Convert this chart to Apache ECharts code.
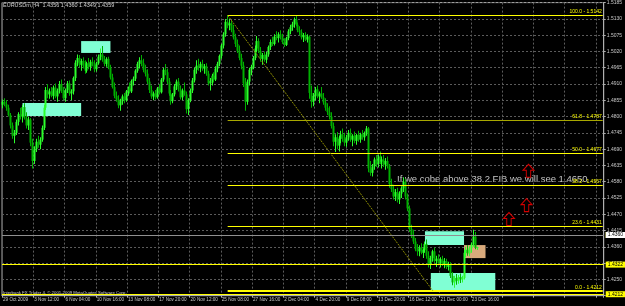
<!DOCTYPE html>
<html><head><meta charset="utf-8">
<script src="https://cdn.jsdelivr.net/npm/echarts@6/dist/echarts.min.js"></script>
<style>html,body{margin:0;padding:0;background:#000;}#c{width:625px;height:306px;}</style>
</head><body><div id="c"></div>
<script>
const dateLabels = ['29 Oct 2009','3 Nov 12:00','6 Nov 04:00','10 Nov 16:00','13 Nov 08:00','17 Nov 20:00','20 Nov 12:00','25 Nov 08:00','27 Nov 16:00','2 Dec 04:00','4 Dec 20:00','9 Dec 08:00','13 Dec 20:00','16 Dec 12:00','21 Dec 00:00','23 Dec 16:00'];
const barSlots = 308;

const opens = [1.4840,1.4850,1.4842,1.4830,1.4805,1.4770,1.4735,1.4745,1.4782,1.4808,
1.4800,1.4832,1.4795,1.4770,1.4790,1.4712,1.4650,1.4690,1.4715,1.4705,
1.4722,1.4762,1.4830,1.4890,1.4875,1.4885,1.4870,1.4898,1.4868,1.4888,
1.4910,1.4885,1.4862,1.4890,1.4912,1.4878,1.4885,1.4930,1.4982,1.4998,
1.4975,1.4988,1.4970,1.4955,1.4980,1.4968,1.4985,1.4975,1.4960,1.4980,
1.5002,1.5010,1.4992,1.4978,1.4995,1.4965,1.4932,1.4900,1.4870,1.4858,
1.4838,1.4852,1.4868,1.4855,1.4885,1.4895,1.4885,1.4920,1.4928,1.4955,
1.4978,1.4990,1.4980,1.4958,1.4945,1.4918,1.4890,1.4868,1.4878,1.4865,
1.4895,1.4882,1.4925,1.4958,1.4950,1.4918,1.4878,1.4852,1.4875,1.4902,
1.4918,1.4892,1.4865,1.4888,1.4875,1.4825,1.4855,1.4888,1.4922,1.4958,
1.4972,1.4965,1.4978,1.4962,1.4970,1.4945,1.4912,1.4920,1.4938,1.4925,
1.4962,1.4978,1.5005,1.5040,1.5078,1.5120,1.5108,1.5115,1.5092,1.5068,
1.5045,1.5022,1.4998,1.4972,1.4912,1.4850,1.4918,1.4958,1.4968,1.4998,
1.5030,1.5055,1.5022,1.4995,1.5008,1.4992,1.5010,1.5035,1.5052,1.5045,
1.5070,1.5065,1.5078,1.5068,1.5052,1.5042,1.5065,1.5088,1.5102,1.5112,
1.5128,1.5110,1.5092,1.5085,1.5068,1.5075,1.5060,1.5070,1.4880,1.4850,
1.4870,1.4892,1.4868,1.4878,1.4865,1.4848,1.4830,1.4815,1.4800,1.4768,
1.4715,1.4730,1.4702,1.4725,1.4740,1.4725,1.4712,1.4730,1.4745,1.4722,
1.4735,1.4718,1.4738,1.4722,1.4740,1.4730,1.4745,1.4760,1.4625,1.4610,
1.4632,1.4655,1.4640,1.4665,1.4648,1.4655,1.4638,1.4650,1.4632,1.4572,
1.4555,1.4530,1.4545,1.4520,1.4540,1.4558,1.4580,1.4530,1.4490,1.4420,
1.4400,1.4378,1.4352,1.4345,1.4358,1.4340,1.4350,1.4370,1.4330,1.4300,
1.4322,1.4345,1.4312,1.4320,1.4305,1.4318,1.4302,1.4312,1.4292,1.4300,
1.4262,1.4240,1.4255,1.4245,1.4258,1.4250,1.4255,1.4340,1.4350,1.4338,
1.4355,1.4368,1.4395,1.4356];

const highs = [1.4858,1.4862,1.4856,1.4840,1.4812,1.4780,1.4755,1.4790,1.4815,1.4830,
1.4840,1.4845,1.4815,1.4800,1.4795,1.4725,1.4700,1.4725,1.4735,1.4730,
1.4770,1.4840,1.4900,1.4910,1.4895,1.4900,1.4905,1.4912,1.4895,1.4920,
1.4925,1.4900,1.4895,1.4920,1.4922,1.4892,1.4935,1.4990,1.5010,1.5008,
1.4995,1.5000,1.4990,1.4985,1.4998,1.4992,1.5000,1.4990,1.4985,1.5010,
1.5030,1.5038,1.5005,1.5000,1.5002,1.4975,1.4945,1.4915,1.4885,1.4872,
1.4860,1.4875,1.4880,1.4890,1.4902,1.4915,1.4925,1.4935,1.4960,1.4985,
1.5000,1.5008,1.4995,1.4975,1.4960,1.4930,1.4905,1.4885,1.4890,1.4900,
1.4910,1.4930,1.4965,1.4978,1.4962,1.4930,1.4890,1.4880,1.4910,1.4925,
1.4930,1.4905,1.4895,1.4915,1.4885,1.4862,1.4895,1.4930,1.4965,1.4990,
1.4995,1.4985,1.4992,1.4978,1.4980,1.4955,1.4930,1.4945,1.4950,1.4970,
1.4985,1.5010,1.5045,1.5085,1.5130,1.5142,1.5130,1.5125,1.5110,1.5080,
1.5060,1.5040,1.5012,1.4985,1.4930,1.4925,1.4965,1.4975,1.5005,1.5040,
1.5072,1.5065,1.5035,1.5015,1.5020,1.5018,1.5040,1.5060,1.5070,1.5078,
1.5088,1.5085,1.5092,1.5080,1.5065,1.5070,1.5095,1.5110,1.5120,1.5135,
1.5140,1.5118,1.5105,1.5095,1.5082,1.5085,1.5078,1.5075,1.4905,1.4880,
1.4900,1.4905,1.4885,1.4900,1.4880,1.4862,1.4845,1.4835,1.4815,1.4780,
1.4740,1.4748,1.4735,1.4752,1.4760,1.4745,1.4738,1.4755,1.4760,1.4740,
1.4750,1.4742,1.4752,1.4745,1.4755,1.4750,1.4768,1.4765,1.4650,1.4640,
1.4662,1.4670,1.4672,1.4682,1.4665,1.4670,1.4660,1.4665,1.4640,1.4590,
1.4570,1.4555,1.4560,1.4548,1.4565,1.4595,1.4590,1.4540,1.4500,1.4435,
1.4418,1.4390,1.4370,1.4365,1.4372,1.4355,1.4378,1.4385,1.4345,1.4330,
1.4350,1.4358,1.4330,1.4335,1.4325,1.4330,1.4322,1.4320,1.4310,1.4308,
1.4275,1.4262,1.4268,1.4265,1.4270,1.4262,1.4350,1.4360,1.4365,1.4362,
1.4375,1.4418,1.4410,1.4360];

const lows = [1.4828,1.4835,1.4820,1.4800,1.4760,1.4725,1.4710,1.4738,1.4770,1.4790,
1.4780,1.4790,1.4760,1.4755,1.4700,1.4625,1.4640,1.4680,1.4695,1.4690,
1.4715,1.4755,1.4822,1.4862,1.4860,1.4865,1.4858,1.4862,1.4850,1.4878,
1.4880,1.4855,1.4850,1.4880,1.4870,1.4855,1.4875,1.4920,1.4970,1.4965,
1.4955,1.4962,1.4945,1.4948,1.4960,1.4955,1.4970,1.4950,1.4952,1.4975,
1.4990,1.4985,1.4970,1.4968,1.4960,1.4925,1.4895,1.4862,1.4850,1.4828,
1.4820,1.4840,1.4845,1.4850,1.4870,1.4878,1.4880,1.4905,1.4920,1.4948,
1.4962,1.4970,1.4950,1.4935,1.4910,1.4880,1.4860,1.4855,1.4858,1.4860,
1.4875,1.4878,1.4918,1.4940,1.4910,1.4870,1.4840,1.4845,1.4868,1.4890,
1.4885,1.4858,1.4855,1.4870,1.4810,1.4805,1.4848,1.4880,1.4915,1.4945,
1.4955,1.4950,1.4955,1.4945,1.4938,1.4905,1.4888,1.4905,1.4915,1.4920,
1.4950,1.4970,1.4995,1.5030,1.5070,1.5098,1.5092,1.5085,1.5060,1.5035,
1.5015,1.4990,1.4960,1.4900,1.4820,1.4840,1.4905,1.4940,1.4960,1.4990,
1.5018,1.5015,1.4985,1.4975,1.4985,1.4980,1.5002,1.5025,1.5038,1.5040,
1.5058,1.5050,1.5060,1.5045,1.5035,1.5038,1.5058,1.5078,1.5090,1.5100,
1.5105,1.5085,1.5075,1.5060,1.5052,1.5055,1.5050,1.4860,1.4830,1.4835,
1.4855,1.4862,1.4845,1.4860,1.4840,1.4820,1.4805,1.4790,1.4760,1.4700,
1.4680,1.4690,1.4682,1.4710,1.4715,1.4700,1.4698,1.4718,1.4715,1.4700,
1.4710,1.4705,1.4715,1.4712,1.4722,1.4718,1.4735,1.4612,1.4600,1.4598,
1.4620,1.4630,1.4628,1.4640,1.4625,1.4630,1.4620,1.4625,1.4560,1.4545,
1.4520,1.4515,1.4510,1.4505,1.4525,1.4545,1.4520,1.4480,1.4410,1.4390,
1.4370,1.4345,1.4330,1.4328,1.4335,1.4322,1.4340,1.4320,1.4290,1.4285,
1.4310,1.4305,1.4292,1.4298,1.4290,1.4295,1.4288,1.4285,1.4280,1.4255,
1.4230,1.4222,1.4232,1.4235,1.4238,1.4240,1.4250,1.4325,1.4330,1.4328,
1.4340,1.4360,1.4352,1.4349];

const closes = [1.4850,1.4842,1.4830,1.4805,1.4770,1.4735,1.4745,1.4782,1.4808,1.4800,
1.4832,1.4795,1.4770,1.4790,1.4712,1.4650,1.4690,1.4715,1.4705,1.4722,
1.4762,1.4830,1.4890,1.4875,1.4885,1.4870,1.4898,1.4868,1.4888,1.4910,
1.4885,1.4862,1.4890,1.4912,1.4878,1.4885,1.4930,1.4982,1.4998,1.4975,
1.4988,1.4970,1.4955,1.4980,1.4968,1.4985,1.4975,1.4960,1.4980,1.5002,
1.5010,1.4992,1.4978,1.4995,1.4965,1.4932,1.4900,1.4870,1.4858,1.4838,
1.4852,1.4868,1.4855,1.4885,1.4895,1.4885,1.4920,1.4928,1.4955,1.4978,
1.4990,1.4980,1.4958,1.4945,1.4918,1.4890,1.4868,1.4878,1.4865,1.4895,
1.4882,1.4925,1.4958,1.4950,1.4918,1.4878,1.4852,1.4875,1.4902,1.4918,
1.4892,1.4865,1.4888,1.4875,1.4825,1.4855,1.4888,1.4922,1.4958,1.4972,
1.4965,1.4978,1.4962,1.4970,1.4945,1.4912,1.4920,1.4938,1.4925,1.4962,
1.4978,1.5005,1.5040,1.5078,1.5120,1.5108,1.5115,1.5092,1.5068,1.5045,
1.5022,1.4998,1.4972,1.4912,1.4850,1.4918,1.4958,1.4968,1.4998,1.5030,
1.5055,1.5022,1.4995,1.5008,1.4992,1.5010,1.5035,1.5052,1.5045,1.5070,
1.5065,1.5078,1.5068,1.5052,1.5042,1.5065,1.5088,1.5102,1.5112,1.5128,
1.5110,1.5092,1.5085,1.5068,1.5075,1.5060,1.5070,1.4880,1.4850,1.4870,
1.4892,1.4868,1.4878,1.4865,1.4848,1.4830,1.4815,1.4800,1.4768,1.4715,
1.4730,1.4702,1.4725,1.4740,1.4725,1.4712,1.4730,1.4745,1.4722,1.4735,
1.4718,1.4738,1.4722,1.4740,1.4730,1.4745,1.4760,1.4625,1.4610,1.4632,
1.4655,1.4640,1.4665,1.4648,1.4655,1.4638,1.4650,1.4632,1.4572,1.4555,
1.4530,1.4545,1.4520,1.4540,1.4558,1.4580,1.4530,1.4490,1.4420,1.4400,
1.4378,1.4352,1.4345,1.4358,1.4340,1.4350,1.4370,1.4330,1.4300,1.4322,
1.4345,1.4312,1.4320,1.4305,1.4318,1.4302,1.4312,1.4292,1.4300,1.4262,
1.4240,1.4255,1.4245,1.4258,1.4250,1.4255,1.4340,1.4350,1.4338,1.4355,
1.4368,1.4395,1.4356,1.4359];

const fibLabels = ['0.0','23.6','38.2','50.0','61.8','100.0'];
const fibPrices = [1.4212, 1.4431, 1.4567, 1.4677, 1.4787, 1.5142];
const fibStartBar = 115, fibEndBar = 307, fibLowBar = 220;
const hLinePrices = [1.4418, 1.4360, 1.4322, 1.4212];
// rectangles: [fromBar, toBar, topPrice, bottomPrice]
const boxes = [[40,55,1.5055,1.5015],[10,40,1.4846,1.4802],[216,236,1.4413,1.4366],[219,252,1.4272,1.4212]];
const tanBox = [236,247,1.4366,1.4322];
const arrows = [[269,1.4617],[268,1.4501],[259,1.4454]];
const headerText = 'EURUSDm,H4  1.4356 1.4360 1.4349 1.4359';
const noteText = 'If we cobe above 38.2 FIB we will see 1.4650';
const footerText = 'Interbank FX Trader 4, \u00a9 2001-2009 MetaQuotes Software Corp.';

const cats = Array.from({length: barSlots}, (_, i) => 'b' + i);
const bars = opens.map((o, i) => [i, o, closes[i], lows[i], highs[i]]);

const YEL = '#ffff00';
const fibLines = fibPrices.map((p, k) => {
  const dim = fibLabels[k] === '61.8';
  return [
    {coord: [fibStartBar, p], lineStyle: {color: dim ? '#a8a800' : YEL, width: fibLabels[k] === '0.0' ? 2 : 1, type: 'solid'},
     label: {show: true, position: 'insideEndTop', formatter: fibLabels[k] + ' - ' + p.toFixed(4), color: YEL, fontSize: 5, distance: 1, fontFamily: 'Liberation Sans'}},
    {coord: [fibEndBar, p]}
  ];
});
const diag = [{coord: [fibStartBar, fibPrices[5]], lineStyle: {color: '#8c8c00', width: 1, type: [2, 1]}, label: {show: false}}, {coord: [fibLowBar, fibPrices[0]]}];
const hStyles = [
  {line: {color: '#a0a070', type: [2, 2], width: 1}, bg: YEL},
  {line: {color: '#909090', type: 'solid', width: 1}, bg: '#ffffff'},
  {line: {color: YEL, type: 'solid', width: 1}, bg: YEL},
  {line: {color: YEL, type: 'solid', width: 1}, bg: YEL}
];
const hLines = hLinePrices.map((p, k) => ({
  yAxis: p, lineStyle: hStyles[k].line,
  label: {show: true, position: 'end', distance: 2, formatter: p.toFixed(4), backgroundColor: hStyles[k].bg, color: '#000', fontSize: 5, padding: [1, 2, 0, 2], fontFamily: 'Liberation Sans'}
}));

function renderBar(params, api) {
  const i = api.value(0), o = api.value(1), c = api.value(2), l = api.value(3), h = api.value(4);
  const pH = api.coord([i, h]), pL = api.coord([i, l]), pO = api.coord([i, o]), pC = api.coord([i, c]);
  const xi = Math.floor(pH[0]);
  const col = c >= o ? '#2cff2c' : '#00b000';
  const top = Math.min(pO[1], pC[1]), bot = Math.max(pO[1], pC[1]);
  return {type: 'group', children: [
    {type: 'rect', shape: {x: xi, y: pH[1], width: 1, height: Math.max(pL[1] - pH[1], 1)}, style: {fill: col}},
    {type: 'rect', shape: {x: xi - 0.5, y: top, width: 2, height: Math.max(bot - top, 1)}, style: {fill: col}}
  ]};
}

const chart = echarts.init(document.getElementById('c'));
chart.setOption({
  backgroundColor: '#000000',
  animation: false,
  grid: {left: 2, right: 19, top: 2.6, bottom: 10.3, show: true, borderColor: '#b0b0b0', borderWidth: 1, backgroundColor: '#000'},
  xAxis: {
    type: 'category', data: cats, boundaryGap: true,
    axisLine: {lineStyle: {color: '#b0b0b0'}},
    axisTick: {show: true, length: 2, interval: (i) => i % 16 === 0, lineStyle: {color: '#b0b0b0'}},
    axisLabel: {interval: (i) => i % 16 === 0, formatter: (v, i) => (i % 16 === 0 && dateLabels[i / 16]) ? dateLabels[i / 16] : '',
      color: '#c8c8c8', fontSize: 4.6, align: 'left', margin: 2, fontFamily: 'Liberation Sans'},
    splitLine: {show: true, interval: (i) => i % 16 === 0, lineStyle: {color: '#5c5c5c', type: [2, 2], width: 1}}
  },
  yAxis: {
    type: 'value', position: 'right', min: 1.4195, max: 1.5185, interval: 0.0055, scale: true,
    axisLine: {show: true, lineStyle: {color: '#b0b0b0'}},
    axisTick: {show: true, length: 2, lineStyle: {color: '#b0b0b0'}},
    axisLabel: {formatter: (v) => v.toFixed(4), color: '#c8c8c8', fontSize: 5, margin: 3, fontFamily: 'Liberation Sans'},
    splitLine: {show: true, lineStyle: {color: '#5c5c5c', type: [2, 2], width: 1}}
  },
  series: [{
    type: 'custom', data: bars, renderItem: renderBar, z: 3,
    encode: {x: 0, y: [1, 2, 3, 4]},
    markArea: {silent: true,
      data: boxes.map(b => [{coord: [b[0], b[2]], itemStyle: {color: '#80ffd4'}}, {coord: [b[1], b[3]]}]).concat([
        [{coord: [tanBox[0], tanBox[2]], itemStyle: {color: '#d9aa7c'}}, {coord: [tanBox[1], tanBox[3]]}]
      ])},
    markLine: {silent: true, symbol: ['none', 'none'], animation: false,
      data: fibLines.concat([diag]).concat(hLines)},
    markPoint: {silent: true, animation: false,
      data: arrows.map(a => ({coord: a, symbol: 'path://M5,0 L10,6 L7,6 L7,13 L3,13 L3,6 L0,6 Z', symbolSize: [11, 13],
        itemStyle: {color: 'rgba(0,0,0,0)', borderColor: '#d40000', borderWidth: 1}, label: {show: false}}))}
  }],
  graphic: [
    {type: 'text', left: 3, top: 2, style: {text: headerText, fill: '#d0d0d0', font: '5.5px "Liberation Sans"'}},
    {type: 'text', left: 397, top: 174, style: {text: noteText, fill: '#c4c4c4', font: '9.5px "Liberation Sans"'}},
    {type: 'text', left: 3, top: 291, style: {text: footerText, fill: '#d0d0d0', font: '4.3px "Liberation Sans"'}}
  ]
});
</script>
</body></html>
